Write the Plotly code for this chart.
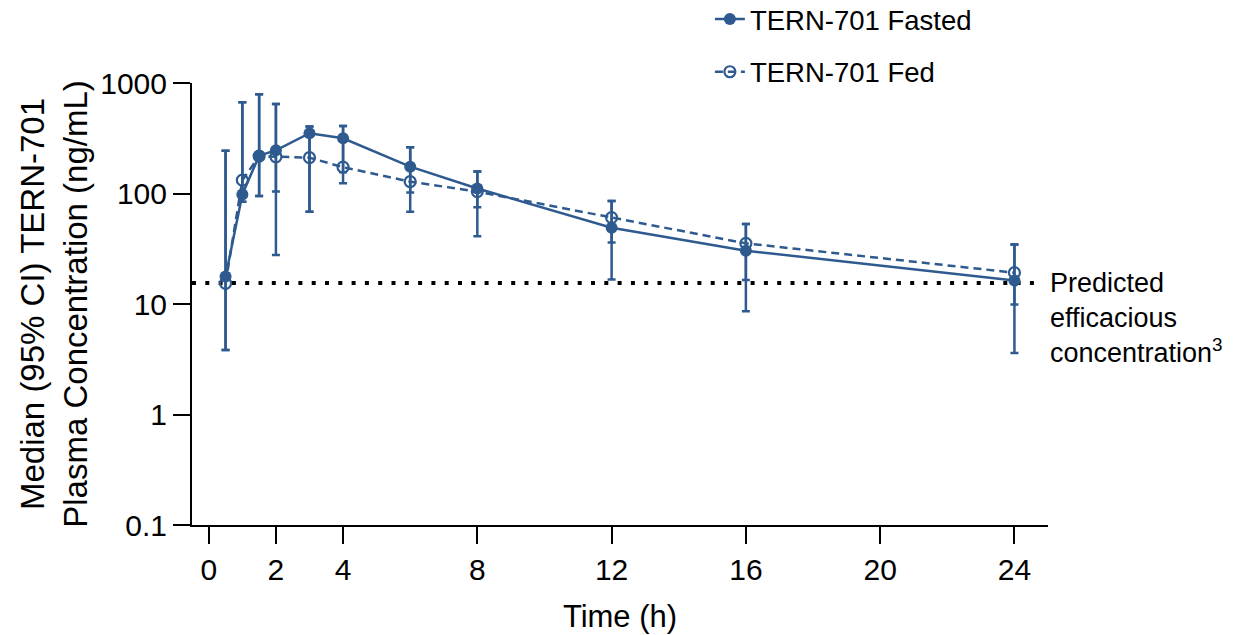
import plotly.graph_objects as go
import numpy as np

# ---- data ----
time_h = [0.5, 1, 1.5, 2, 3, 4, 6, 8, 12, 16, 24]
fasted = [17.7, 98, 220, 246, 351, 316, 175, 111, 49, 30.4, 16.3]
fasted_lo = [3.84, 84, 95, 104, 68.5, 156, 102, 41, 16.7, 8.6, 3.6]
fasted_hi = [244, 668, 790, 645, 403, 408, 262, 158, 85.5, 53, 34.5]
fed = [15.4, 132, 218, 215, 211, 173, 128, 104, 60.4, 35.4, 19.2]
fed_lo = [3.84, 84, 95, 27.7, 68.5, 124, 68.5, 75, 36, 16.5, 9.9]
fed_hi = [244, 668, 790, 645, 403, 408, 262, 158, 85.5, 53, 34.5]
efficacious = 15.5
x_ticks = [0, 2, 4, 8, 12, 16, 20, 24]
y_ticks = [0.1, 1, 10, 100, 1000]
y_ticktext = ["0.1", "1", "10", "100", "1000"]

BLUE = "#2E5A8F"
FONT = "Liberation Sans, Arial, sans-serif"

def err(v, lo, hi):
    v, lo, hi = np.array(v), np.array(lo), np.array(hi)
    return dict(type="data", symmetric=False, array=hi - v, arrayminus=v - lo,
                color=BLUE, thickness=2.5, width=4)

fig = go.Figure()
fig.add_trace(go.Scatter(
    x=time_h, y=fed, name="TERN-701 Fed", mode="lines+markers",
    legendgroup="b", legendrank=2,
    line=dict(color=BLUE, width=2.5, dash="8px,5px"),
    marker=dict(symbol="circle-open", size=11, color=BLUE, line=dict(width=2.2, color=BLUE)),
    error_y=err(fed, fed_lo, fed_hi)))
fig.add_trace(go.Scatter(
    x=time_h, y=fasted, name="TERN-701 Fasted", mode="lines+markers",
    legendgroup="a", legendrank=1,
    line=dict(color=BLUE, width=2.5),
    marker=dict(symbol="circle", size=12, color=BLUE),
    error_y=err(fasted, fasted_lo, fasted_hi)))

fig.add_shape(type="line", xref="x", yref="y", x0=-0.5, x1=24.7,
              y0=efficacious, y1=efficacious,
              line=dict(color="black", width=4, dash="4px,9.3px"), layer="below")

fig.add_annotation(xref="paper", yref="y", x=1.0, y=np.log10(efficacious),
                   xanchor="left", yanchor="top", yshift=17, align="left", showarrow=False,
                   text="Predicted<br>efficacious<br>concentration<sup>3</sup>",
                   font=dict(family=FONT, size=27, color="black"))

fig.update_layout(
    width=1237, height=635,
    margin=dict(l=192, r=189, t=83, b=110, autoexpand=False),
    paper_bgcolor="white", plot_bgcolor="white",
    font=dict(family=FONT, color="black"),
    showlegend=True,
    legend=dict(x=0.605, y=1.2, xanchor="left", yanchor="top",
                font=dict(family=FONT, size=27.5), traceorder="grouped",
                tracegroupgap=14, bgcolor="rgba(0,0,0,0)"),
    xaxis=dict(range=[-0.5, 25], tickvals=x_ticks, ticks="outside", ticklen=17, tickwidth=2,
               tickcolor="black", showline=True, linewidth=2, linecolor="black",
               showgrid=False, zeroline=False, tickfont=dict(size=30),
               title=dict(text="Time (h)", font=dict(size=31), standoff=20)),
    yaxis=dict(type="log", range=[-1, 3], tickvals=y_ticks, ticktext=y_ticktext,
               ticks="outside", ticklen=17, tickwidth=2, tickcolor="black",
               showline=True, linewidth=2, linecolor="black", showgrid=False,
               zeroline=False, tickfont=dict(size=30),
               title=dict(text="Median (95% CI) TERN-701<br>Plasma Concentration (ng/mL)",
                          font=dict(size=33), standoff=3)),
)

fig.write_html("out.html", config={"displayModeBar": False},
               post_script="document.body.style.margin='0';")
